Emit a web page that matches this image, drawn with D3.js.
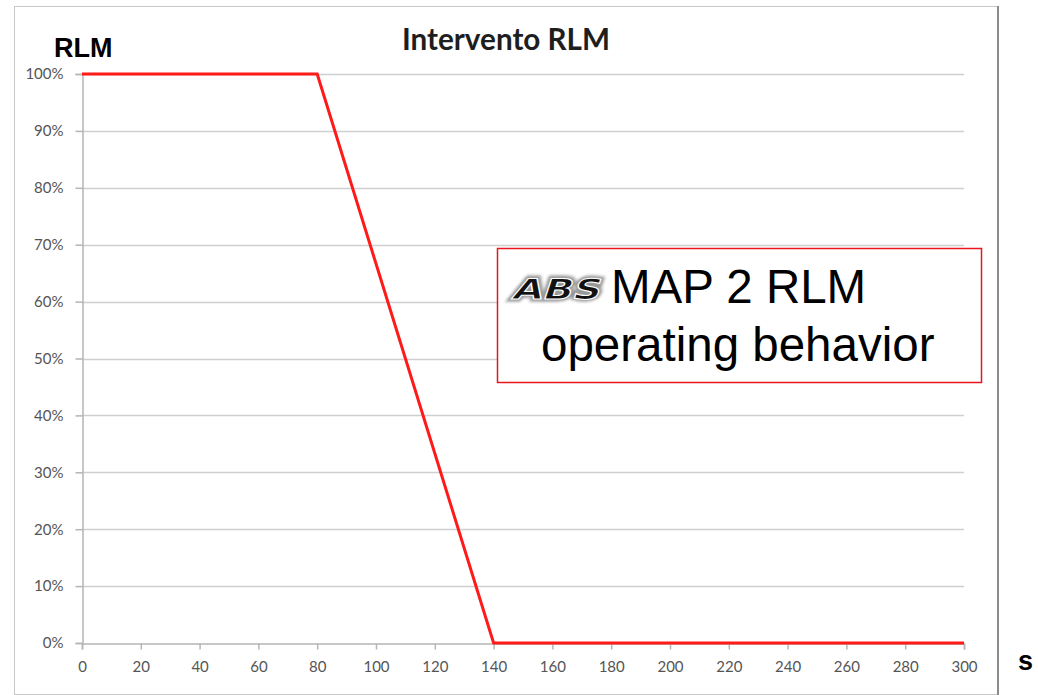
<!DOCTYPE html>
<html>
<head>
<meta charset="utf-8">
<title>Intervento RLM</title>
<script src="https://cdn.jsdelivr.net/npm/d3@7"></script>
<style>
  body { margin: 0; background: #fff; }
  .tick text { font-family: Lato, "Open Sans", sans-serif; fill: #555; }
</style>
</head>
<body>
<script>
// Data
const seconds = [0, 80, 140, 300];
const rlmPercent = [100, 100, 0, 0];
const xTicks = d3.range(0, 301, 20);
const yTicks = d3.range(0, 101, 10);

const w = 1038;
const h = 695;

// Plot area in page pixels
const plot = { left: 82, right: 964, top: 74, bottom: 643 };

const svg = d3.select("body")
  .append("svg")
  .attr("width", w)
  .attr("height", h);

// Chart frame
svg.append("rect")
  .attr("x", 14.5)
  .attr("y", 6.5)
  .attr("width", 983)
  .attr("height", 688)
  .attr("fill", "#fff")
  .attr("stroke", "#c8c8c8");
svg.append("line")
  .attr("x1", 998).attr("x2", 998)
  .attr("y1", 6).attr("y2", 695)
  .attr("stroke", "#8c8c8c")
  .attr("stroke-width", 2);

const xScale = d3.scaleLinear()
  .domain([0, 300])
  .range([plot.left, plot.right]);

const yScale = d3.scaleLinear()
  .domain([0, 100])
  .range([plot.bottom, plot.top]);

// Horizontal gridlines
svg.append("g")
  .selectAll("line")
  .data(yTicks.filter(d => d > 0))
  .enter()
  .append("line")
  .attr("x1", plot.left)
  .attr("x2", plot.right)
  .attr("y1", d => Math.round(yScale(d)) + 0.5)
  .attr("y2", d => Math.round(yScale(d)) + 0.5)
  .attr("stroke", "#cfcfcf")
  .attr("stroke-width", 1.5);

// Axes
const xAxis = svg.append("g")
  .attr("transform", `translate(0,${plot.bottom + 0.5})`)
  .call(d3.axisBottom(xScale).tickValues(xTicks).tickSize(6).tickPadding(12));

const yAxis = svg.append("g")
  .attr("transform", `translate(${plot.left + 0.5},0)`)
  .call(d3.axisLeft(yScale).tickValues(yTicks).tickSize(7).tickPadding(12)
    .tickFormat(d => d + "%"));

[xAxis, yAxis].forEach(function(a) {
  a.select(".domain").attr("stroke", "#b5b5b5").attr("stroke-width", 1.5);
  a.selectAll(".tick line").attr("stroke", "#b5b5b5").attr("stroke-width", 1.5);
  a.selectAll(".tick text").attr("font-size", 15);
});

// The RLM line
const line = d3.line()
  .x((d, i) => xScale(seconds[i]))
  .y(d => yScale(d));

svg.append("path")
  .datum(rlmPercent)
  .attr("d", line)
  .attr("fill", "none")
  .attr("stroke", "#ff1a1a")
  .attr("stroke-width", 3)
  .attr("stroke-linejoin", "miter");

// Titles
svg.append("text")
  .attr("x", 402)
  .attr("y", 50)
  .attr("font-family", "Lato, 'Open Sans', sans-serif")
  .attr("font-weight", "bold")
  .attr("font-size", 30)
  .attr("textLength", 208)
  .attr("lengthAdjust", "spacingAndGlyphs")
  .attr("fill", "#1e1e1e")
  .text("Intervento RLM");

svg.append("text")
  .attr("x", 54)
  .attr("y", 57)
  .attr("font-family", "Arial, 'Liberation Sans', sans-serif")
  .attr("font-weight", "bold")
  .attr("font-size", 27)
  .attr("fill", "#000")
  .text("RLM");

svg.append("text")
  .attr("x", 1018)
  .attr("y", 670)
  .attr("font-family", "Arial, 'Liberation Sans', sans-serif")
  .attr("font-weight", "bold")
  .attr("font-size", 27)
  .attr("fill", "#000")
  .text("s");

// Annotation box
const note = svg.append("g");
note.append("rect")
  .attr("x", 497.5)
  .attr("y", 248.5)
  .attr("width", 484)
  .attr("height", 134)
  .attr("fill", "#fff")
  .attr("stroke", "#e8141e")
  .attr("stroke-width", 1.5);

const defs = svg.append("defs");
defs.append("filter")
  .attr("id", "blur")
  .append("feGaussianBlur")
  .attr("stdDeviation", 1.6);

// ABS logo (text with soft grey halo)
const logo = note.append("g")
  .attr("transform", "translate(511,299) skewX(-18)");
logo.append("text")
  .attr("font-family", "'DejaVu Sans', sans-serif")
  .attr("font-weight", "bold")
  .attr("font-size", 28)
  .attr("textLength", 88)
  .attr("lengthAdjust", "spacingAndGlyphs")
  .attr("fill", "#888")
  .attr("stroke", "#999")
  .attr("stroke-width", 5)
  .attr("filter", "url(#blur)")
  .text("ABS");
logo.append("text")
  .attr("font-family", "'DejaVu Sans', sans-serif")
  .attr("font-weight", "bold")
  .attr("font-size", 28)
  .attr("textLength", 88)
  .attr("lengthAdjust", "spacingAndGlyphs")
  .attr("fill", "#111")
  .attr("stroke", "#fff")
  .attr("stroke-width", 1)
  .text("ABS");

note.append("text")
  .attr("x", 611)
  .attr("y", 303)
  .attr("font-family", "Arial, 'Liberation Sans', sans-serif")
  .attr("font-size", 47.5)
  .attr("fill", "#000")
  .text("MAP 2 RLM");

note.append("text")
  .attr("x", 541)
  .attr("y", 361)
  .attr("font-family", "Arial, 'Liberation Sans', sans-serif")
  .attr("font-size", 47.5)
  .attr("fill", "#000")
  .text("operating behavior");
</script>
</body>
</html>
